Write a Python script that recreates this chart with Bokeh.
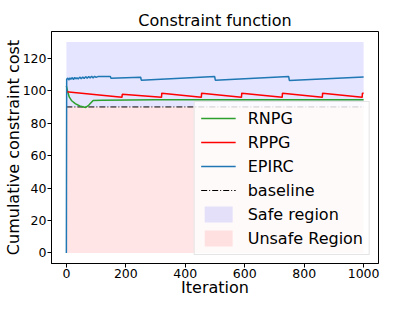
from bokeh.plotting import figure
from bokeh.models import Range1d, FixedTicker, Legend, LegendItem
from bokeh.embed import file_html
from bokeh.resources import INLINE

# ---- data ----
x_ticks = [0, 200, 400, 600, 800, 1000]
y_ticks = [0, 20, 40, 60, 80, 100, 120]

region_x = [0, 1000]
safe_low = [90, 90]
safe_high = [130, 130]
unsafe_low = [0, 0]
unsafe_high = [90, 90]

baseline_x = [0, 1000]
baseline_y = [90, 90]

rnpg_x = [0, 5, 10, 17, 30, 45, 65, 75, 90, 120, 300, 1000]
rnpg_y = [103.0, 99.0, 96.0, 94.0, 92.0, 90.6, 89.7, 91.0, 94.0, 94.2, 94.4, 94.5]

rppg_x = [0, 187, 188, 320, 321, 454, 455, 589, 590, 726, 727, 861, 862, 995, 996, 1000]
rppg_y = [99.4, 95.9, 97.8, 95.9, 98.5, 95.9, 98.5, 95.9, 98.5, 95.9, 98.5, 95.9, 98.5, 95.9, 98.5, 98.4]

epirc_x = [0, 1, 5, 8, 12, 15, 20, 24, 28, 32, 36, 40, 45, 50, 55, 60, 65, 70, 75,
           80, 85, 90, 95, 100, 106, 148, 150, 250, 252, 499, 501, 748, 750, 1000]
epirc_y = [0.0, 107.0, 107.8, 106.6, 107.9, 107.0, 108.1, 106.9, 108.2, 107.3, 108.0,
           107.2, 108.4, 107.4, 108.5, 107.5, 108.7, 107.6, 108.8, 107.8, 109.0, 107.9,
           108.9, 108.2, 108.7, 108.7, 107.7, 108.3, 106.5, 108.7, 106.5, 108.7, 106.3, 108.5]

FONT = "DejaVu Sans"

p = figure(width=404, height=299, output_backend="svg", toolbar_location=None,
           x_range=Range1d(-50, 1050), y_range=Range1d(-6.5, 136.5),
           title="Constraint function",
           min_border_left=0, min_border_right=26, min_border_top=31, min_border_bottom=0)

p.title.align = "center"
p.title.text_font = FONT
p.title.text_font_size = "16px"
p.title.text_font_style = "normal"
p.title.text_color = "black"
p.title.offset = 0
p.title.standoff = 4

p.xgrid.visible = False
p.ygrid.visible = False
p.outline_line_color = "black"
p.outline_line_width = 1
p.background_fill_color = "white"
p.border_fill_color = "white"

for ax in (p.xaxis[0], p.yaxis[0]):
    ax.major_label_text_font = FONT
    ax.major_label_text_font_size = "12.5px"
    ax.major_label_text_color = "black"
    ax.axis_label_text_font = FONT
    ax.axis_label_text_font_size = "16px"
    ax.axis_label_text_font_style = "normal"
    ax.axis_label_text_color = "black"
    ax.axis_line_color = "black"
    ax.major_tick_line_color = "black"
    ax.major_tick_out = 4
    ax.major_tick_in = 0
    ax.minor_tick_line_color = None
    ax.major_label_standoff = 1

p.xaxis.axis_label_standoff = -3
p.yaxis.axis_label_standoff = -3

p.xaxis.ticker = FixedTicker(ticks=x_ticks)
p.yaxis.ticker = FixedTicker(ticks=y_ticks)
p.xaxis.axis_label = "Iteration"
p.yaxis.axis_label = "Cumulative constraint cost"

safe = p.varea(x=region_x, y1=safe_low, y2=safe_high, fill_color="blue", fill_alpha=0.1)
unsafe = p.varea(x=region_x, y1=unsafe_low, y2=unsafe_high, fill_color="red", fill_alpha=0.1)

base = p.line(baseline_x, baseline_y, line_color="black", line_width=1, line_dash="6 2 1 2")
r1 = p.line(rnpg_x, rnpg_y, line_color="#2ca02c", line_width=1.5)
r2 = p.line(rppg_x, rppg_y, line_color="#ff0000", line_width=1.5)
r3 = p.line(epirc_x, epirc_y, line_color="#1f77b4", line_width=1.5)

legend = Legend(items=[
    LegendItem(label="RNPG", renderers=[r1]),
    LegendItem(label="RPPG", renderers=[r2]),
    LegendItem(label="EPIRC", renderers=[r3]),
    LegendItem(label="baseline", renderers=[base]),
    LegendItem(label="Safe region", renderers=[safe]),
    LegendItem(label="Unsafe Region", renderers=[unsafe]),
], location="bottom_right")
legend.label_text_font = FONT
legend.label_text_font_size = "16px"
legend.label_text_color = "black"
legend.glyph_width = 35
legend.glyph_height = 20
legend.label_height = 20
legend.spacing = 4
legend.padding = 6
legend.margin = 8
legend.label_standoff = 12
legend.border_line_color = "#cccccc"
legend.border_line_width = 1
legend.background_fill_color = "white"
legend.background_fill_alpha = 0.8
p.add_layout(legend, "center")

open("out.html", "w").write(file_html(p, INLINE))
